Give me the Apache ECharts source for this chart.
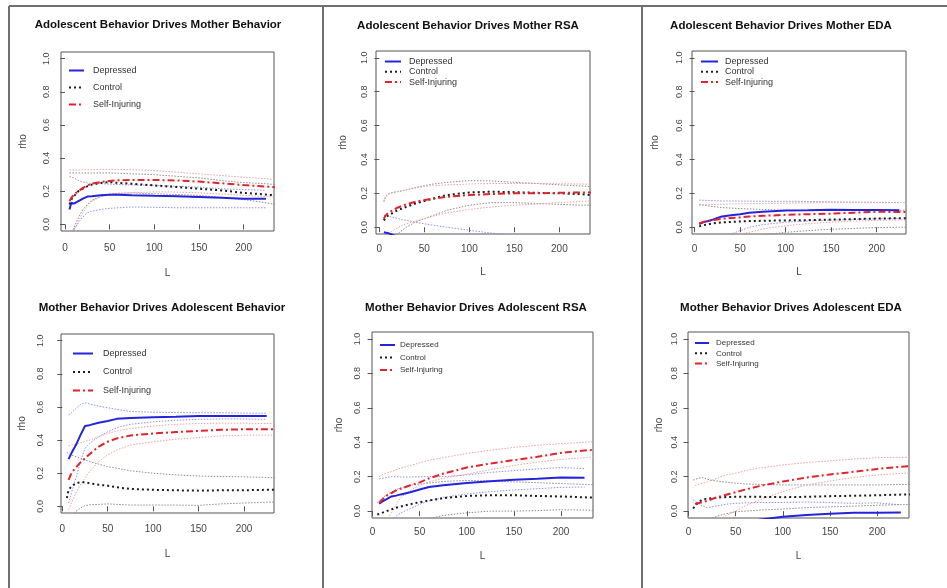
<!DOCTYPE html>
<html>
<head>
<meta charset="utf-8">
<script src="https://cdn.jsdelivr.net/npm/echarts@6/dist/echarts.min.js"></script>
<style>
  html, body { margin: 0; padding: 0; background: #fff; }
  #main { width: 947px; height: 588px; }
</style>
</head>
<body>
<div id="main"></div>
<script>
// lag values shared by every curve
const L = [5, 7, 10, 15, 20, 25, 30, 40, 50, 60, 75, 100, 125, 150, 175, 200, 225, 235];
const xTicks = [0, 50, 100, 150, 200];
const yTicks = [0, 0.2, 0.4, 0.6, 0.8, 1.0];
const groupNames = ["Depressed", "Control", "Self-Injuring"];
const titles = [
  "Adolescent Behavior Drives Mother Behavior",
  "Adolescent Behavior Drives Mother RSA",
  "Adolescent Behavior Drives Mother EDA",
  "Mother Behavior Drives Adolescent Behavior",
  "Mother Behavior Drives Adolescent RSA",
  "Mother Behavior Drives Adolescent EDA"
];

// panel 1 : adolescent behavior -> mother behavior
const p1Dep    = [0.09, 0.13, 0.125, 0.14, 0.155, 0.168, 0.17, 0.175, 0.178, 0.178, 0.175, 0.172, 0.17, 0.165, 0.16, 0.155, 0.155, null];
const p1DepHi  = [0.29, 0.3, 0.28, 0.265, 0.255, 0.25, 0.248, 0.245, 0.243, 0.24, 0.238, 0.235, 0.23, 0.225, 0.215, 0.21, 0.205, null];
const p1DepLo  = [-0.15, -0.08, -0.03, 0.01, 0.045, 0.07, 0.08, 0.09, 0.097, 0.1, 0.105, 0.103, 0.1, 0.1, 0.1, 0.1, 0.1, null];
const p1Con    = [0.12, 0.15, 0.17, 0.2, 0.215, 0.23, 0.24, 0.25, 0.255, 0.25, 0.245, 0.235, 0.225, 0.215, 0.205, 0.19, 0.18, 0.175];
const p1ConHi  = [0.31, 0.31, 0.31, 0.31, 0.31, 0.31, 0.31, 0.31, 0.31, 0.308, 0.305, 0.3, 0.29, 0.28, 0.265, 0.252, 0.245, 0.24];
const p1ConLo  = [-0.12, -0.06, -0.02, 0.04, 0.09, 0.12, 0.145, 0.17, 0.183, 0.188, 0.19, 0.185, 0.18, 0.175, 0.163, 0.15, 0.13, 0.12];
const p1Self   = [0.14, 0.16, 0.18, 0.2, 0.22, 0.235, 0.245, 0.255, 0.262, 0.266, 0.268, 0.268, 0.265, 0.258, 0.248, 0.237, 0.228, 0.224];
const p1SelfHi = [0.328, 0.328, 0.328, 0.328, 0.329, 0.33, 0.33, 0.332, 0.332, 0.332, 0.33, 0.325, 0.315, 0.305, 0.295, 0.285, 0.275, 0.27];
const p1SelfLo = [-0.1, -0.07, -0.04, 0.02, 0.07, 0.11, 0.14, 0.165, 0.178, 0.185, 0.19, 0.196, 0.195, 0.19, 0.183, 0.175, 0.168, 0.165];

// panel 2 : adolescent behavior -> mother RSA
const p2Dep    = [-0.03, -0.032, -0.035, -0.045, -0.055, -0.065, -0.075, -0.09, -0.1, -0.11, -0.12, -0.13, -0.14, -0.14, -0.145, -0.15, -0.15, null];
const p2DepHi  = [0.07, 0.068, 0.065, 0.058, 0.052, 0.045, 0.04, 0.03, 0.02, 0.012, 0.0, -0.018, -0.035, -0.05, -0.06, -0.07, -0.08, null];
const p2DepLo  = [-0.13, -0.135, -0.14, -0.15, -0.16, -0.17, -0.18, -0.2, -0.21, -0.22, -0.23, -0.24, -0.24, -0.24, -0.24, -0.24, -0.24, null];
const p2Con    = [0.04, 0.055, 0.07, 0.085, 0.1, 0.11, 0.12, 0.14, 0.155, 0.17, 0.19, 0.205, 0.21, 0.207, 0.203, 0.2, 0.195, 0.19];
const p2ConHi  = [0.15, 0.18, 0.195, 0.205, 0.21, 0.215, 0.22, 0.235, 0.245, 0.255, 0.265, 0.275, 0.273, 0.265, 0.258, 0.25, 0.243, 0.24];
const p2ConLo  = [-0.12, -0.1, -0.08, -0.06, -0.04, -0.02, 0.0, 0.03, 0.05, 0.07, 0.1, 0.13, 0.145, 0.145, 0.14, 0.135, 0.13, 0.13];
const p2Self   = [0.05, 0.07, 0.085, 0.1, 0.115, 0.125, 0.135, 0.15, 0.16, 0.168, 0.18, 0.19, 0.196, 0.2, 0.2, 0.203, 0.205, 0.205];
const p2SelfHi = [0.155, 0.185, 0.2, 0.205, 0.21, 0.215, 0.22, 0.23, 0.24, 0.245, 0.25, 0.255, 0.258, 0.258, 0.258, 0.256, 0.255, 0.254];
const p2SelfLo = [-0.06, -0.05, -0.04, -0.02, -0.005, 0.01, 0.02, 0.035, 0.05, 0.065, 0.085, 0.105, 0.12, 0.13, 0.137, 0.145, 0.152, 0.155];

// panel 3 : adolescent behavior -> mother EDA
const p3Dep    = [0.018, 0.023, 0.03, 0.037, 0.045, 0.055, 0.063, 0.07, 0.077, 0.085, 0.092, 0.098, 0.1, 0.103, 0.102, 0.102, 0.1, null];
const p3DepHi  = [0.16, 0.16, 0.159, 0.158, 0.157, 0.156, 0.155, 0.155, 0.154, 0.154, 0.153, 0.153, 0.152, 0.15, 0.148, 0.147, 0.146, null];
const p3DepLo  = [-0.15, -0.14, -0.13, -0.11, -0.09, -0.075, -0.06, -0.04, -0.02, 0.0, 0.015, 0.03, 0.037, 0.042, 0.046, 0.05, 0.052, null];
const p3Con    = [0.005, 0.008, 0.012, 0.017, 0.022, 0.026, 0.028, 0.031, 0.034, 0.036, 0.038, 0.04, 0.042, 0.045, 0.048, 0.051, 0.053, 0.053];
const p3ConHi  = [0.135, 0.133, 0.13, 0.126, 0.122, 0.119, 0.116, 0.113, 0.11, 0.108, 0.105, 0.1, 0.1, 0.1, 0.1, 0.1, 0.1, 0.1];
const p3ConLo  = [-0.12, -0.115, -0.11, -0.1, -0.095, -0.09, -0.085, -0.075, -0.065, -0.055, -0.045, -0.03, -0.02, -0.012, -0.007, -0.002, 0.0, 0.0];
const p3Self   = [0.022, 0.027, 0.032, 0.038, 0.042, 0.046, 0.05, 0.055, 0.058, 0.063, 0.067, 0.073, 0.077, 0.08, 0.086, 0.091, 0.09, 0.09];
const p3SelfHi = [0.13, 0.131, 0.132, 0.133, 0.134, 0.135, 0.136, 0.137, 0.138, 0.139, 0.14, 0.142, 0.144, 0.145, 0.145, 0.145, 0.145, 0.145];
const p3SelfLo = [-0.1, -0.095, -0.09, -0.08, -0.075, -0.07, -0.065, -0.055, -0.04, -0.03, -0.01, 0.008, 0.022, 0.03, 0.036, 0.04, 0.043, 0.043];

// panel 4 : mother behavior -> adolescent behavior
const p4Dep    = [null, 0.285, 0.32, 0.37, 0.43, 0.485, 0.49, 0.505, 0.515, 0.528, 0.533, 0.537, 0.54, 0.545, 0.545, 0.545, 0.545, null];
const p4DepHi  = [null, 0.55, 0.565, 0.59, 0.615, 0.625, 0.618, 0.605, 0.595, 0.585, 0.573, 0.568, 0.566, 0.565, 0.565, 0.563, 0.562, null];
const p4DepLo  = [null, 0.02, 0.08, 0.17, 0.27, 0.35, 0.38, 0.42, 0.45, 0.475, 0.495, 0.51, 0.52, 0.525, 0.527, 0.527, 0.525, null];
const p4Con    = [0.05, 0.1, 0.12, 0.14, 0.145, 0.145, 0.14, 0.13, 0.125, 0.115, 0.105, 0.1, 0.097, 0.095, 0.097, 0.097, 0.1, 0.1];
const p4ConHi  = [0.325, 0.32, 0.31, 0.3, 0.29, 0.28, 0.27, 0.255, 0.24, 0.23, 0.215, 0.2, 0.19, 0.183, 0.18, 0.178, 0.175, 0.172];
const p4ConLo  = [-0.2, -0.15, -0.08, -0.03, -0.01, 0.005, 0.01, 0.012, 0.015, 0.012, 0.008, 0.008, 0.008, 0.006, 0.015, 0.02, 0.025, 0.026];
const p4Self   = [null, 0.16, 0.2, 0.235, 0.265, 0.29, 0.315, 0.36, 0.39, 0.41, 0.428, 0.44, 0.448, 0.455, 0.462, 0.465, 0.465, 0.465];
const p4SelfHi = [null, 0.365, 0.37, 0.375, 0.383, 0.39, 0.4, 0.42, 0.44, 0.455, 0.47, 0.485, 0.495, 0.5, 0.502, 0.502, 0.5, 0.5];
const p4SelfLo = [null, -0.02, 0.02, 0.08, 0.13, 0.17, 0.21, 0.27, 0.31, 0.34, 0.37, 0.39, 0.405, 0.415, 0.425, 0.43, 0.43, 0.43];

// panel 5 : mother behavior -> adolescent RSA
const p5Dep    = [null, 0.043, 0.055, 0.07, 0.085, 0.09, 0.097, 0.11, 0.125, 0.14, 0.15, 0.163, 0.173, 0.182, 0.188, 0.195, 0.193, null];
const p5DepHi  = [null, 0.188, 0.19, 0.195, 0.2, 0.2, 0.198, 0.198, 0.2, 0.2, 0.2, 0.21, 0.225, 0.235, 0.245, 0.253, 0.247, null];
const p5DepLo  = [null, -0.1, -0.09, -0.07, -0.05, -0.03, -0.01, 0.015, 0.04, 0.06, 0.08, 0.1, 0.113, 0.123, 0.13, 0.138, 0.14, null];
const p5Con    = [-0.02, -0.015, -0.01, 0.0, 0.01, 0.02, 0.027, 0.04, 0.052, 0.062, 0.075, 0.088, 0.092, 0.092, 0.088, 0.085, 0.08, 0.078];
const p5ConHi  = [0.05, 0.06, 0.075, 0.095, 0.11, 0.125, 0.135, 0.15, 0.157, 0.163, 0.172, 0.178, 0.175, 0.17, 0.165, 0.16, 0.155, 0.153];
const p5ConLo  = [-0.25, -0.23, -0.2, -0.17, -0.15, -0.13, -0.11, -0.08, -0.06, -0.045, -0.025, -0.01, 0.0, 0.0, 0.003, 0.008, 0.006, 0.004];
const p5Self   = [null, 0.047, 0.065, 0.09, 0.105, 0.12, 0.13, 0.15, 0.167, 0.19, 0.218, 0.253, 0.276, 0.296, 0.315, 0.338, 0.352, 0.355];
const p5SelfHi = [null, 0.2, 0.21, 0.22, 0.23, 0.24, 0.25, 0.265, 0.28, 0.295, 0.31, 0.335, 0.353, 0.37, 0.382, 0.392, 0.4, 0.403];
const p5SelfLo = [null, -0.15, -0.1, -0.05, -0.01, 0.04, 0.08, 0.12, 0.15, 0.17, 0.19, 0.215, 0.24, 0.265, 0.285, 0.3, 0.31, 0.315];

// panel 6 : mother behavior -> adolescent EDA
const p6Dep    = [-0.2, -0.19, -0.18, -0.16, -0.15, -0.14, -0.13, -0.1, -0.08, -0.065, -0.05, -0.033, -0.023, -0.015, -0.01, -0.01, -0.008, null];
const p6DepHi  = [0.065, 0.055, 0.045, 0.03, 0.02, 0.025, 0.03, 0.04, 0.045, 0.048, 0.05, 0.05, 0.053, 0.05, 0.045, 0.048, 0.037, null];
const p6DepLo  = [-0.45, -0.43, -0.4, -0.36, -0.33, -0.3, -0.28, -0.24, -0.2, -0.18, -0.15, -0.12, -0.1, -0.08, -0.07, -0.065, -0.055, null];
const p6Con    = [0.015, 0.03, 0.05, 0.068, 0.072, 0.075, 0.078, 0.082, 0.083, 0.083, 0.083, 0.081, 0.083, 0.087, 0.089, 0.092, 0.096, 0.097];
const p6ConHi  = [0.18, 0.185, 0.19, 0.195, 0.185, 0.178, 0.175, 0.168, 0.162, 0.158, 0.155, 0.152, 0.152, 0.152, 0.152, 0.152, 0.155, 0.155];
const p6ConLo  = [-0.12, -0.1, -0.085, -0.07, -0.055, -0.04, -0.03, -0.015, -0.004, 0.0, 0.006, 0.012, 0.02, 0.025, 0.029, 0.034, 0.038, 0.039];
const p6Self   = [null, 0.042, 0.046, 0.052, 0.06, 0.07, 0.08, 0.095, 0.11, 0.125, 0.145, 0.172, 0.195, 0.213, 0.228, 0.245, 0.258, 0.262];
const p6SelfHi = [null, 0.148, 0.155, 0.162, 0.17, 0.18, 0.19, 0.21, 0.22, 0.235, 0.25, 0.268, 0.282, 0.292, 0.302, 0.31, 0.312, 0.312];
const p6SelfLo = [null, -0.3, -0.25, -0.2, -0.14, -0.1, -0.06, -0.025, 0.0, 0.03, 0.065, 0.113, 0.152, 0.175, 0.195, 0.21, 0.218, 0.223];

const panelData = [
  [[p1Dep, p1DepHi, p1DepLo], [p1Con, p1ConHi, p1ConLo], [p1Self, p1SelfHi, p1SelfLo]],
  [[p2Dep, p2DepHi, p2DepLo], [p2Con, p2ConHi, p2ConLo], [p2Self, p2SelfHi, p2SelfLo]],
  [[p3Dep, p3DepHi, p3DepLo], [p3Con, p3ConHi, p3ConLo], [p3Self, p3SelfHi, p3SelfLo]],
  [[p4Dep, p4DepHi, p4DepLo], [p4Con, p4ConHi, p4ConLo], [p4Self, p4SelfHi, p4SelfLo]],
  [[p5Dep, p5DepHi, p5DepLo], [p5Con, p5ConHi, p5ConLo], [p5Self, p5SelfHi, p5SelfLo]],
  [[p6Dep, p6DepHi, p6DepLo], [p6Con, p6ConHi, p6ConLo], [p6Self, p6SelfHi, p6SelfLo]]
];

// where each plot sits on the page
const layout = [
  { left: 61,  top: 52,  width: 213, height: 179, xMin: -4.5, xMax: 234,   tx: 158, ty: 19,  yLab: 10, xLab: 12, rhoGap: 33, lGap: 37,
    leg: { left: 68,  top: 66,  w: 15, h: 10, gap: 8,   pad: 4, fs: 9 } },
  { left: 376, top: 51,  width: 214, height: 183, xMin: -3.7, xMax: 234,   tx: 468, ty: 20,  yLab: 7,  xLab: 10, rhoGap: 28, lGap: 33,
    leg: { left: 384, top: 57,  w: 16, h: 8,  gap: 1.3, pad: 3, fs: 9 } },
  { left: 692, top: 51,  width: 214, height: 183, xMin: -2.9, xMax: 232.3, tx: 781, ty: 20,  yLab: 8,  xLab: 10, rhoGap: 32, lGap: 33,
    leg: { left: 700, top: 57,  w: 17, h: 8,  gap: 1.3, pad: 2, fs: 9 } },
  { left: 61,  top: 334, width: 213, height: 179, xMin: -1.4, xMax: 233,   tx: 162, ty: 302, yLab: 16, xLab: 11, rhoGap: 34, lGap: 36,
    leg: { left: 72,  top: 349, w: 20, h: 10, gap: 9.5, pad: 5, fs: 9 } },
  { left: 372, top: 332, width: 221, height: 186, xMin: -0.6, xMax: 234,   tx: 476, ty: 302, yLab: 10, xLab: 9,  rhoGap: 28, lGap: 33,
    leg: { left: 379, top: 341, w: 15, h: 8,  gap: 4.5, pad: 0, fs: 8 } },
  { left: 688, top: 332, width: 221, height: 186, xMin: -0.5, xMax: 233.7, tx: 791, ty: 302, yLab: 9,  xLab: 9,  rhoGap: 24, lGap: 33,
    leg: { left: 694, top: 339, w: 14, h: 8,  gap: 2.3, pad: 2, fs: 8 } }
];

const FONT = "Liberation Sans, Arial, sans-serif";
const mainStyle = [
  { color: "#2424dc", width: 2, type: "solid" },
  { color: "#1c1c1c", width: 2, type: [2, 3] },
  { color: "#e2232b", width: 2, type: [7, 3, 2, 3] }
];
const bandStyle = [
  { color: "#9090f0", width: 1, type: [1.5, 1.5] },
  { color: "#8c8c8c", width: 1, type: [1.5, 1.5] },
  { color: "#f2a0a0", width: 1, type: [1.5, 1.5] }
];

function pairs(vals) {
  return L.map((x, i) => [x, vals[i]]).filter(p => p[1] !== null);
}

const grids = [], xAxes = [], yAxes = [], titleOpts = [], legends = [], series = [];

layout.forEach((p, i) => {
  grids.push({ left: p.left, top: p.top, width: p.width, height: p.height, show: true,
    borderColor: "#555", borderWidth: 1, backgroundColor: "transparent", outerBoundsMode: "none" });
  xAxes.push({
    type: "value", gridIndex: i, min: p.xMin, max: p.xMax,
    axisLine: { show: false }, splitLine: { show: false },
    axisTick: { show: true, length: 5, customValues: xTicks, lineStyle: { color: "#555" } },
    axisLabel: { customValues: xTicks, margin: p.xLab, fontSize: 10, color: "#444", fontFamily: FONT },
    name: "L", nameLocation: "middle", nameGap: p.lGap,
    nameTextStyle: { fontSize: 10, color: "#444", fontFamily: FONT }
  });
  yAxes.push({
    type: "value", gridIndex: i, min: -0.04, max: 1.04,
    axisLine: { show: false }, splitLine: { show: false },
    axisTick: { show: true, length: 5, customValues: yTicks, lineStyle: { color: "#555" } },
    axisLabel: { customValues: yTicks, rotate: 90, margin: p.yLab, fontSize: 9, color: "#444", fontFamily: FONT,
      formatter: v => v.toFixed(1) },
    name: "rho", nameLocation: "middle", nameGap: p.rhoGap, nameRotate: 90,
    nameTextStyle: { fontSize: 10, color: "#444", fontFamily: FONT }
  });
  titleOpts.push({
    text: titles[i], left: p.tx, top: p.ty, textAlign: "center", padding: 0,
    textStyle: { fontSize: 11.5, fontWeight: "bold", color: "#111", fontFamily: FONT }
  });
  legends.push({
    data: groupNames, orient: "vertical", left: p.leg.left, top: p.leg.top, padding: 0,
    itemWidth: p.leg.w, itemHeight: p.leg.h, itemGap: p.leg.gap, selectedMode: false,
    // only the line sample, no marker in the middle
    itemStyle: { opacity: 0, borderWidth: 0 },
    textStyle: { fontSize: p.leg.fs, color: "#333", fontFamily: FONT, padding: [0, 0, 0, p.leg.pad] }
  });

  // bounds first so the estimates sit on top
  panelData[i].forEach((g, k) => {
    [g[1], g[2]].forEach(b => {
      series.push({
        type: "line", name: groupNames[k] + " bound", xAxisIndex: i, yAxisIndex: i,
        data: pairs(b), symbol: "none", silent: true, clip: true, z: 2,
        lineStyle: bandStyle[k]
      });
    });
  });
  panelData[i].forEach((g, k) => {
    series.push({
      type: "line", name: groupNames[k], xAxisIndex: i, yAxisIndex: i,
      data: pairs(g[0]), symbol: "none", clip: true, z: 3,
      itemStyle: { color: mainStyle[k].color },
      lineStyle: mainStyle[k]
    });
  });
});

const chart = echarts.init(document.getElementById("main"));
chart.setOption({
  backgroundColor: "#fff",
  animation: false,
  title: titleOpts,
  legend: legends,
  grid: grids,
  xAxis: xAxes,
  yAxis: yAxes,
  series: series,
  // frame lines of the figure
  graphic: [
    { type: "line", shape: { x1: 9, y1: 6, x2: 947, y2: 6 }, style: { stroke: "#707070", lineWidth: 2 } },
    { type: "line", shape: { x1: 9, y1: 6, x2: 9, y2: 588 }, style: { stroke: "#707070", lineWidth: 2 } },
    { type: "line", shape: { x1: 323, y1: 6, x2: 323, y2: 588 }, style: { stroke: "#707070", lineWidth: 2 } },
    { type: "line", shape: { x1: 642, y1: 6, x2: 642, y2: 588 }, style: { stroke: "#707070", lineWidth: 2 } }
  ]
});
</script>
</body>
</html>
